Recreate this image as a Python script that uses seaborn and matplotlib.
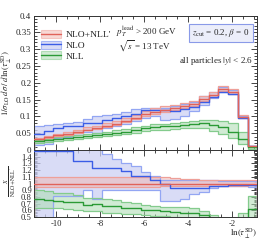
import numpy as np
import pandas as pd
import matplotlib
matplotlib.use("Agg")
import matplotlib.pyplot as plt
import seaborn as sns
from matplotlib.ticker import MultipleLocator
from matplotlib.lines import Line2D
from matplotlib.patches import Patch

# ---- data ----
bin_lo_edge = -11.0
bin_hi_edge = -0.87
n_bins = 23

nlonll = [0.033, 0.038, 0.044, 0.048, 0.054, 0.061, 0.066, 0.072, 0.078, 0.086, 0.096, 0.106,
          0.113, 0.119, 0.124, 0.130, 0.137, 0.152, 0.165, 0.181, 0.172, 0.098, 0.012]
nlonll_hi = [0.0363, 0.0418, 0.0484, 0.0528, 0.0594, 0.0671, 0.0726, 0.0792, 0.0858, 0.0946, 0.1056,
             0.1166, 0.124, 0.130, 0.134, 0.139, 0.146, 0.161, 0.174, 0.190, 0.181, 0.103, 0.0126]
nlonll_lo = [0.0315, 0.0363, 0.042, 0.0458, 0.0516, 0.0583, 0.063, 0.0688, 0.0745, 0.0822, 0.0917,
             0.1012, 0.108, 0.114, 0.119, 0.125, 0.1318, 0.1464, 0.1592, 0.1751, 0.1666, 0.0952, 0.0117]

nlo = [0.0488, 0.0562, 0.0651, 0.071, 0.0718, 0.0811, 0.0812, 0.0886, 0.096, 0.1015, 0.1066, 0.1177,
       0.1198, 0.119, 0.1166, 0.122, 0.129, 0.143, 0.158, 0.174, 0.168, 0.0955, 0.0118]
nlo_hi = [0.070, 0.073, 0.077, 0.080, 0.084, 0.093, 0.100, 0.104, 0.106, 0.113, 0.121, 0.125,
          0.125, 0.126, 0.131, 0.137, 0.144, 0.160, 0.173, 0.188, 0.179, 0.102, 0.0125]
nlo_lo = [0.0149, 0.0171, 0.0356, 0.0389, 0.0437, 0.0549, 0.0508, 0.0648, 0.0702, 0.0774, 0.0864,
          0.0954, 0.1017, 0.0881, 0.0918, 0.1001, 0.1151, 0.1338, 0.1551, 0.1738, 0.1668, 0.0941, 0.0114]

nll = [0.0254, 0.0289, 0.0326, 0.035, 0.0389, 0.042, 0.0455, 0.048, 0.0515, 0.055, 0.0605, 0.0647,
       0.068, 0.070, 0.0707, 0.074, 0.077, 0.080, 0.075, 0.067, 0.055, 0.034, 0.0075]
nll_hi = [0.030, 0.034, 0.038, 0.041, 0.045, 0.048, 0.052, 0.055, 0.059, 0.063, 0.068, 0.072,
          0.076, 0.078, 0.080, 0.084, 0.087, 0.090, 0.089, 0.087, 0.080, 0.055, 0.0097]
nll_lo = [0.021, 0.024, 0.028, 0.030, 0.033, 0.036, 0.039, 0.041, 0.044, 0.047, 0.052, 0.056,
          0.059, 0.061, 0.062, 0.064, 0.066, 0.064, 0.057, 0.047, 0.037, 0.019, 0.003]

labels = ["NLO+NLL'", "NLO", "NLL"]

# ---- styling ----
sns.set_theme(style="ticks")
plt.rcParams["font.family"] = ["Liberation Serif", "DejaVu Serif"]
plt.rcParams["mathtext.fontset"] = "stix"
plt.rcParams["font.size"] = 7

edges = np.linspace(bin_lo_edge, bin_hi_edge, n_bins + 1)

styles = {
    "NLO": dict(line="#3b5de6", fill="#cdd1f4", edge="#93a6f3", falpha=0.75),
    "NLL": dict(line="#2b9a36", fill="#acdcb1", edge="#84cb8d", falpha=0.55),
    "NLO+NLL'": dict(line="#e0625a", fill="#f2b5af", edge="#eea099", falpha=0.5),
}
series = {
    "NLO": (np.array(nlo), np.array(nlo_lo), np.array(nlo_hi)),
    "NLL": (np.array(nll), np.array(nll_lo), np.array(nll_hi)),
    "NLO+NLL'": (np.array(nlonll), np.array(nlonll_lo), np.array(nlonll_hi)),
}
ref = np.array(nlonll)

fig = plt.figure(figsize=(2.66, 2.40), dpi=100)
gs = fig.add_gridspec(2, 1, height_ratios=[2, 1], hspace=0,
                      left=0.128, right=0.967, top=0.935, bottom=0.095)
ax = fig.add_subplot(gs[0])
axr = fig.add_subplot(gs[1], sharex=ax)


def draw(a, c, lo, hi, st):
    a.stairs(hi, edges, baseline=lo, fill=True, color=st["fill"], alpha=st["falpha"], lw=0, zorder=1)
    a.stairs(hi, edges, color=st["edge"], lw=0.9, zorder=2)
    a.stairs(lo, edges, color=st["edge"], lw=0.9, zorder=2)
    df = pd.DataFrame({"x": edges, "y": np.append(c, c[-1])})
    sns.lineplot(data=df, x="x", y="y", drawstyle="steps-post", estimator=None, sort=False,
                 color=st["line"], linewidth=1.0, ax=a, zorder=3)


for name in ["NLO", "NLL", "NLO+NLL'"]:
    c, lo, hi = series[name]
    st = styles[name]
    draw(ax, c, lo, hi, st)
    draw(axr, c / ref, lo / ref, hi / ref, st)

ax.set_xlim(bin_lo_edge, bin_hi_edge)
ax.set_ylim(0, 0.4)
axr.set_ylim(0.5, 1.5)

for a in (ax, axr):
    a.tick_params(which="both", direction="in", top=True, right=True, width=0.6, pad=2)
    a.tick_params(which="major", length=4)
    a.tick_params(which="minor", length=2)
    a.xaxis.set_major_locator(MultipleLocator(2))
    a.xaxis.set_minor_locator(MultipleLocator(0.5))
    for s in a.spines.values():
        s.set_linewidth(0.7)
        s.set_color("#333333")

ax.tick_params(labelsize=6.5)
axr.tick_params(labelsize=6.2)
axr.tick_params(axis="y", pad=1.5)

ax.set_yticks([0, 0.05, 0.1, 0.15, 0.2, 0.25, 0.3, 0.35, 0.4])
ax.set_yticklabels(["0", "0.05", "0.1", "0.15", "0.2", "0.25", "0.3", "0.35", "0.4"])
ax.yaxis.set_minor_locator(MultipleLocator(0.01))
ax.tick_params(labelbottom=False)
axr.set_yticks([0.5, 0.6, 0.7, 0.8, 0.9, 1.0, 1.1, 1.2, 1.3, 1.4])
axr.set_yticklabels(["0.5", "0.6", "0.7", "0.8", "0.9", "1", "1.1", "1.2", "1.3", "1.4"])
axr.yaxis.set_minor_locator(MultipleLocator(0.02))
axr.set_xticks([-10, -8, -6, -4, -2])
axr.set_xticklabels(["-10", "-8", "-6", "-4", "-2"])

ax.set_xlabel("")
axr.set_xlabel("")
ax.set_ylabel(r"$1/\sigma_{\rm LO}\,d\sigma\,/\,d\,\ln(\tau_{\perp}^{\rm SD})$", fontsize=6.3)
ax.yaxis.set_label_coords(-0.09, 0.5)
axr.set_ylabel("")
fig.text(0.038, 0.245, r"$\frac{X}{\rm NLO{+}NLL'}$", fontsize=6.0, rotation=90,
         ha="center", va="center")
fig.text(0.915, 0.026, r"$\ln(\tau_{\perp}^{\rm SD})$", fontsize=6.5, ha="center", va="center")

# legend
handles = []
for name in labels:
    st = styles[name]
    handles.append((Patch(facecolor=st["fill"], alpha=st["falpha"], edgecolor=st["edge"], lw=0.8),
                    Line2D([], [], color=st["line"], lw=1.0)))
ax.legend(handles, labels, loc="upper left", bbox_to_anchor=(0.0, 0.94), frameon=False,
          fontsize=6.8, handlelength=2.2, handleheight=0.9, labelspacing=0.15, handletextpad=0.4,
          borderaxespad=0.3)

ax.text(0.365, 0.878, r"$p_T^{\rm lead}$ > 200 GeV", transform=ax.transAxes, fontsize=6.5, va="center")
ax.text(0.375, 0.772, r"$\sqrt{s}$ = 13 TeV", transform=ax.transAxes, fontsize=6.5, va="center")
ax.text(0.965, 0.87, r"$z_{\rm cut}$ = 0.2, $\beta$ = 0", transform=ax.transAxes, fontsize=6.5,
        ha="right", va="center",
        bbox=dict(boxstyle="square,pad=0.35", facecolor="#eceefa", edgecolor="#8a9ae8", lw=0.8))
ax.text(0.98, 0.66, r"all particles $|y|$ < 2.6", transform=ax.transAxes, fontsize=6.5,
        ha="right", va="center")

fig.savefig("out.png", dpi=100)
